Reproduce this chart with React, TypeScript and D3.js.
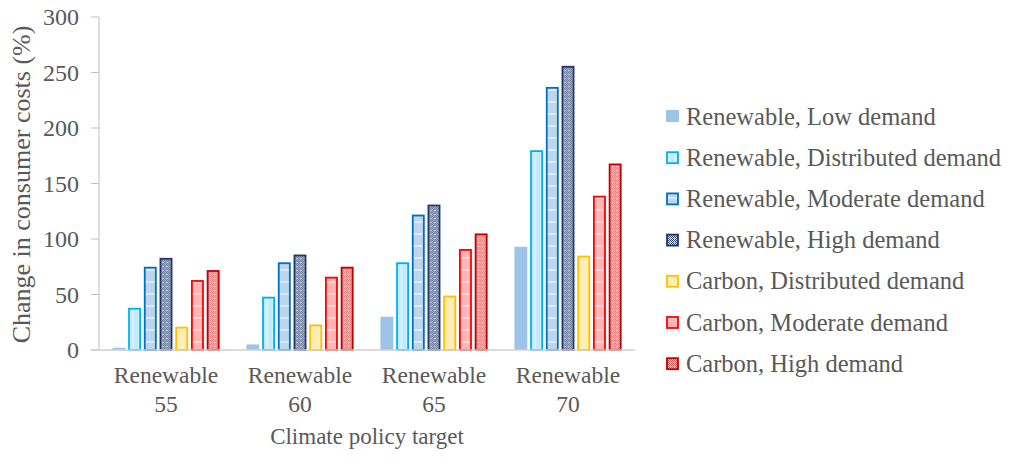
import React from "react";
import * as d3 from "d3";

const categories = ["Renewable 55", "Renewable 60", "Renewable 65", "Renewable 70"];
const seriesNames = [
  "Renewable, Low demand",
  "Renewable, Distributed demand",
  "Renewable, Moderate demand",
  "Renewable, High demand",
  "Carbon, Distributed demand",
  "Carbon, Moderate demand",
  "Carbon, High demand",
];
const renLow = [2, 5, 30, 93];
const renDist = [38, 48, 79, 180];
const renMod = [75, 79, 122, 237];
const renHigh = [83, 86, 131, 256];
const carDist = [21, 23, 49, 85];
const carMod = [63, 66, 91, 139];
const carHigh = [72, 75, 105, 168];
const seriesValues = [renLow, renDist, renMod, renHigh, carDist, carMod, carHigh];
const yTicks = [0, 50, 100, 150, 200, 250, 300];

const strokes = ["none", "#00B0F0", "#0070C0", "#1F3864", "#FFC000", "#FF0000", "#C00000"];
const fills = ["#9DC3E6", "url(#pDist)", "url(#pMod)", "url(#pHigh)", "#FFEDB8", "url(#pCMod)", "url(#pCHigh)"];

const W = 1012;
const H = 465;
const left = 99;
const right = 635;
const top = 17;
const bottom = 350;
const font = "'Liberation Serif', Tinos, 'Times New Roman', Times, 'Noto Serif', 'DejaVu Serif', serif";
const textColor = "#595959";

export default function App() {
  const y = d3.scaleLinear().domain([0, 300]).range([bottom, top]);
  const x0 = d3.scaleBand<string>().domain(categories).range([left, right]).paddingInner(0.2).paddingOuter(0.1);
  const x1 = d3
    .scaleBand<number>()
    .domain(d3.range(seriesNames.length))
    .range([0, x0.bandwidth()])
    .paddingInner(0.18);
  const sw = 1.8;

  return (
    <svg width={W} height={H} style={{ display: "block", position: "absolute", left: 0, top: 0 }}>
      <defs>
        <pattern id="pDist" width="6" height="6" patternUnits="userSpaceOnUse">
          <rect width="6" height="6" fill="#C3EAFA" />
          <rect x="2" width="2" height="6" fill="#D8F2FC" />
        </pattern>
        <pattern id="pMod" width="12" height="12" patternUnits="userSpaceOnUse">
          <rect width="12" height="12" fill="#BCD6EE" />
          <rect y="5" width="12" height="2" fill="#DCE9F6" />
        </pattern>
        <pattern id="pCMod" width="12" height="12" patternUnits="userSpaceOnUse">
          <rect width="12" height="12" fill="#FFB5B5" />
          <rect y="5" width="12" height="2" fill="#FFD6D6" />
        </pattern>
        <pattern id="pHigh" width="4" height="4" patternUnits="userSpaceOnUse">
          <rect width="4" height="4" fill="#E4E8F0" />
          <rect width="1" height="1" fill="#2F4577" />
          <rect x="2" width="1" height="1" fill="#2F4577" />
          <rect x="1" y="1" width="1" height="1" fill="#2F4577" />
          <rect x="3" y="1" width="1" height="1" fill="#2F4577" />
          <rect y="2" width="1" height="1" fill="#2F4577" />
          <rect x="1" y="3" width="1" height="1" fill="#2F4577" />
          <rect x="3" y="3" width="1" height="1" fill="#2F4577" />
          <rect x="2" y="2" width="1" height="1" fill="#8E9AB6" />
        </pattern>
        <pattern id="pCHigh" width="4" height="4" patternUnits="userSpaceOnUse">
          <rect width="4" height="4" fill="#FBE3E3" />
          <rect width="1" height="1" fill="#D94A4A" />
          <rect x="2" width="1" height="1" fill="#D94A4A" />
          <rect x="1" y="1" width="1" height="1" fill="#D94A4A" />
          <rect x="3" y="1" width="1" height="1" fill="#D94A4A" />
          <rect y="2" width="1" height="1" fill="#D94A4A" />
          <rect x="1" y="3" width="1" height="1" fill="#D94A4A" />
          <rect x="3" y="3" width="1" height="1" fill="#D94A4A" />
          <rect x="2" y="2" width="1" height="1" fill="#EC9E9E" />
        </pattern>
      </defs>
      <rect width={W} height={H} fill="#ffffff" />

      {/* y axis */}
      <line x1={left} x2={left} y1={top} y2={bottom} stroke="#BFBFBF" strokeWidth={1} />
      {yTicks.map((t) => (
        <g key={t}>
          <line x1={left - 8} x2={left} y1={y(t)} y2={y(t)} stroke="#BFBFBF" strokeWidth={1} />
          <text
            x={79}
            y={y(t)}
            dy="0.35em"
            textAnchor="end"
            fontFamily={font}
            fontSize={24}
            fill={textColor}
          >
            {t}
          </text>
        </g>
      ))}
      <text
        transform={`translate(30,${(top + bottom) / 2 + 1}) rotate(-90)`}
        textAnchor="middle"
        fontFamily={font}
        fontSize={26}
        fill={textColor}
      >
        Change in consumer costs (%)
      </text>

      {/* bars */}
      {categories.map((c, ci) => (
        <g key={c} transform={`translate(${x0(c)},0)`}>
          {seriesValues.map((vals, si) => {
            const v = vals[ci];
            const bx = x1(si)!;
            const bw = x1.bandwidth();
            const hasStroke = strokes[si] !== "none";
            const inset = hasStroke ? sw / 2 : 0;
            return (
              <rect
                key={si}
                x={bx + inset}
                y={y(v) + inset}
                width={bw - 2 * inset}
                height={Math.max(0, y(0) - y(v) - inset)}
                fill={fills[si]}
                stroke={hasStroke ? strokes[si] : "none"}
                strokeWidth={sw}
              />
            );
          })}
        </g>
      ))}

      {/* baseline */}
      <line x1={left - 8} x2={right} y1={bottom} y2={bottom} stroke="#D0D0D0" strokeWidth={1.5} />

      {/* x labels */}
      {categories.map((c) => {
        const parts = c.split(" ");
        const cx = x0(c)! + x0.bandwidth() / 2;
        return (
          <text key={c} textAnchor="middle" fontFamily={font} fontSize={23.5} fill={textColor}>
            <tspan x={cx} y={383}>
              {parts[0]}
            </tspan>
            <tspan x={cx} y={412}>
              {parts[1]}
            </tspan>
          </text>
        );
      })}
      <text x={(left + right) / 2} y={444} textAnchor="middle" fontFamily={font} fontSize={23} fill={textColor}>
        Climate policy target
      </text>

      {/* legend */}
      {seriesNames.map((n, i) => {
        const ly = 116 + i * 41.2;
        const hasStroke = strokes[i] !== "none";
        return (
          <g key={n}>
            <rect
              x={hasStroke ? 667 : 666}
              y={ly - 6 + (hasStroke ? 1 : 0)}
              width={hasStroke ? 11 : 13}
              height={hasStroke ? 11 : 12}
              fill={fills[i]}
              stroke={hasStroke ? strokes[i] : "none"}
              strokeWidth={1.8}
            />
            <text x={686} y={ly} dy="0.35em" fontFamily={font} fontSize={24.5} fill={textColor}>
              {n}
            </text>
          </g>
        );
      })}
    </svg>
  );
}
